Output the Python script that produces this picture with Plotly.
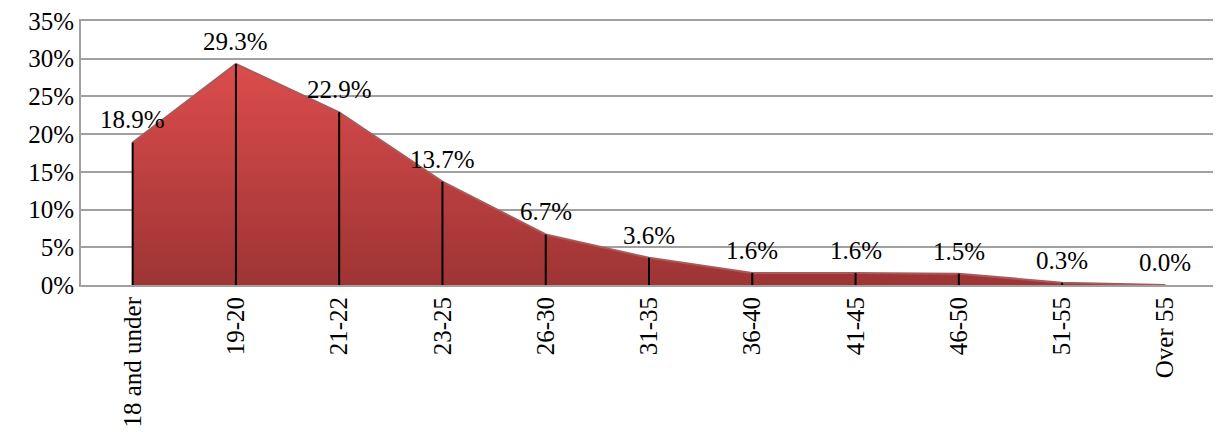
import plotly.graph_objects as go

categories = ["18 and under", "19-20", "21-22", "23-25", "26-30", "31-35",
              "36-40", "41-45", "46-50", "51-55", "Over 55"]
values = [18.9, 29.3, 22.9, 13.7, 6.7, 3.6, 1.6, 1.6, 1.5, 0.3, 0.0]
labels = [f"{v:.1f}%" for v in values]
y_ticks = [0, 5, 10, 15, 20, 25, 30, 35]

FONT = "Liberation Serif"
FS = 25

fig = go.Figure()

fig.add_trace(go.Scatter(
    x=categories, y=values, mode="lines",
    line=dict(color="#a85a5a", width=2),
    fill="tozeroy",
    fillgradient=dict(type="vertical",
                      colorscale=[[0, "#9e3434"], [1, "#dc4c4c"]]),
    hoverinfo="skip", showlegend=False,
))

# drop lines
dx, dy = [], []
for c, v in zip(categories, values):
    dx += [c, c, None]
    dy += [0, v, None]
fig.add_trace(go.Scatter(x=dx, y=dy, mode="lines",
                         line=dict(color="black", width=2),
                         hoverinfo="skip", showlegend=False))

for c, v, t in zip(categories, values, labels):
    fig.add_annotation(x=c, y=v, text=t, showarrow=False,
                       yanchor="bottom", yshift=7,
                       font=dict(family=FONT, size=FS, color="black"))

fig.update_layout(
    width=1221, height=432,
    margin=dict(l=73, r=12, t=13, b=155),
    paper_bgcolor="white", plot_bgcolor="white",
    font=dict(family=FONT, size=FS, color="black"),
)
fig.update_xaxes(
    type="category", range=[-0.5, 10.5], tickangle=-90,
    showgrid=False, showline=True, linecolor="#a0a0a0", linewidth=2,
    mirror=True,
    ticks="", tickfont=dict(family=FONT, size=FS), automargin=False,
)
fig.update_yaxes(
    range=[0, 35], tickvals=y_ticks, ticktext=[f"{t}%" for t in y_ticks],
    showgrid=True, gridcolor="#a0a0a0", gridwidth=2,
    showline=True, linecolor="#a0a0a0", linewidth=2,
    zeroline=False, ticks="", tickfont=dict(family=FONT, size=FS),
    ticklabeloverflow="allow", automargin=False,
)

fig.write_html("out.html")
